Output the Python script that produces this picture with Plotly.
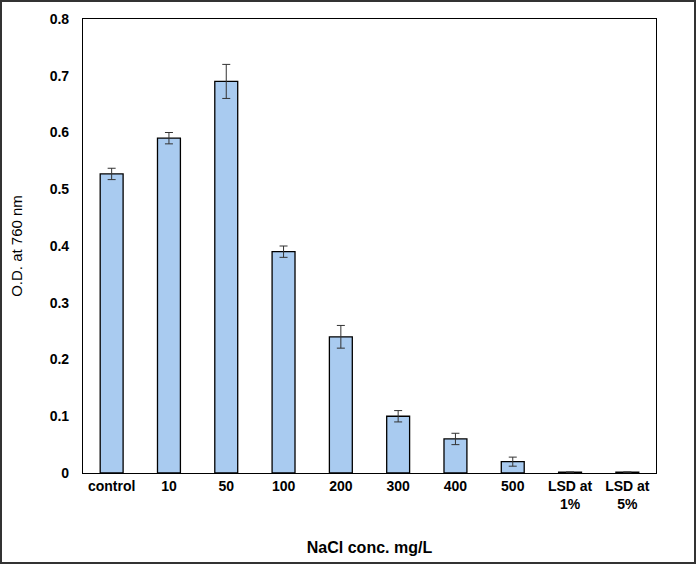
import plotly.graph_objects as go

categories = ["control", "10", "50", "100", "200", "300", "400", "500", "LSD at<br>1%", "LSD at<br>5%"]
od_values = [0.527, 0.590, 0.690, 0.390, 0.240, 0.100, 0.060, 0.020, 0.0015, 0.0015]
od_errors = [0.010, 0.010, 0.030, 0.010, 0.020, 0.010, 0.010, 0.008, 0, 0]
y_ticks = [0, 0.1, 0.2, 0.3, 0.4, 0.5, 0.6, 0.7, 0.8]
y_tick_labels = ["0", "0.1", "0.2", "0.3", "0.4", "0.5", "0.6", "0.7", "0.8"]

W, H = 697, 565
ML, MR, MT, MB = 83, 41, 19, 92
pw, ph = W - ML - MR, H - MT - MB

fig = go.Figure(go.Bar(
    x=categories, y=od_values,
    marker=dict(color="#A9CBF0", line=dict(color="black", width=1.3)),
    error_y=dict(type="data", array=od_errors, visible=True, color="#333333", thickness=1, width=4),
))

def px_x(p):
    return (p - ML) / pw

def px_y(p):
    return 1 - (p - MT) / ph

fig.update_layout(
    width=W, height=H,
    margin=dict(l=ML, r=MR, t=MT, b=MB),
    paper_bgcolor="white", plot_bgcolor="white",
    bargap=0.6,
    showlegend=False,
    font=dict(family="Liberation Sans, Arial", color="black"),
    xaxis=dict(
        showline=True, linecolor="black", linewidth=1.2, mirror=True,
        ticks="", tickfont=dict(size=14),
        title=dict(text="<b>NaCl conc. mg/L</b>", font=dict(size=16), standoff=30),
    ),
    yaxis=dict(
        range=[0, 0.8], tickvals=y_ticks, ticktext=["<b>%s</b>" % t for t in y_tick_labels],
        showline=True, linecolor="black", linewidth=1.2, mirror=True,
        showgrid=False, zeroline=False, ticks="",
        tickfont=dict(size=14), ticklabelstandoff=10,
        title=dict(text="O.D. at 760 nm", font=dict(size=15), standoff=23),
    ),
    shapes=[dict(
        type="rect", xref="paper", yref="paper",
        x0=px_x(1), x1=px_x(W - 2), y0=px_y(H - 2), y1=px_y(1),
        line=dict(color="#333333", width=2), fillcolor="rgba(0,0,0,0)", layer="above",
    )],
)
fig.update_xaxes(ticktext=["<b>%s</b>" % c for c in categories], tickvals=categories)

fig.write_html("out.html", config={"displayModeBar": False},
               post_script="document.body.style.margin='0';document.body.style.overflow='hidden';")
